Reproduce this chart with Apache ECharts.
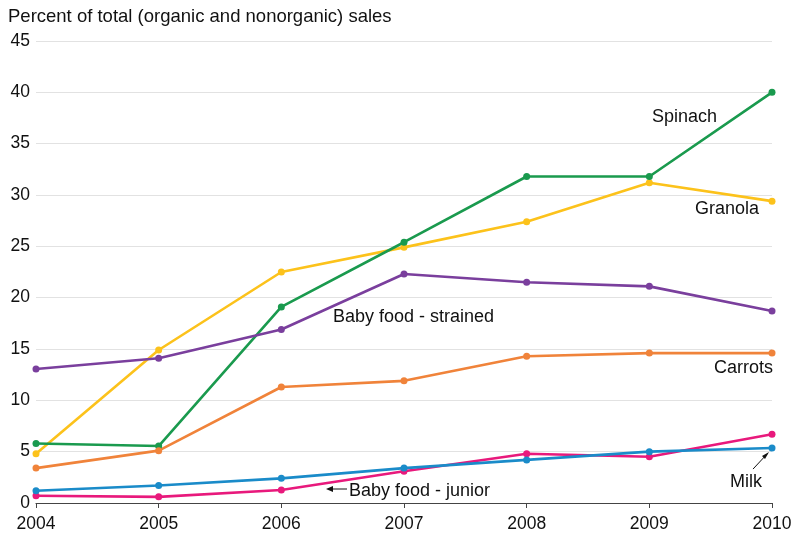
<!DOCTYPE html>
<html><head><meta charset="utf-8">
<script src="https://cdn.jsdelivr.net/npm/echarts@6/dist/echarts.min.js"></script>
<style>html,body{margin:0;padding:0;background:#fff}#c{width:796px;height:536px}</style>
</head><body><div id="c"></div>
<script>
const years = ['2004','2005','2006','2007','2008','2009','2010'];
const spinach = [5.8, 5.55, 19.1, 25.4, 31.8, 31.8, 40.0];
const granola = [4.8, 14.9, 22.5, 24.9, 27.4, 31.2, 29.4];
const babyStrained = [13.05, 14.1, 16.9, 22.3, 21.5, 21.1, 18.7];
const carrots = [3.4, 5.1, 11.3, 11.9, 14.3, 14.6, 14.6];
const milk = [1.2, 1.7, 2.4, 3.4, 4.2, 5.0, 5.35];
const babyJunior = [0.7, 0.6, 1.27, 3.1, 4.8, 4.5, 6.7];
const yTicks = [0, 5, 10, 15, 20, 25, 30, 35, 40, 45];

const FONT = 'Liberation Sans, Arial, sans-serif';
const chart = echarts.init(document.getElementById('c'));
function s(name, data, color){
  return {name, type:'line', data, color, symbol:'circle', symbolSize:7,
    lineStyle:{width:2.6, color}, itemStyle:{color}, emphasis:{disabled:true}, z:2};
}
chart.setOption({
  animation:false,
  grid:{left:36, right:24, top:41, bottom:33, containLabel:false},
  xAxis:{type:'category', data:years, boundaryGap:false,
    axisLine:{lineStyle:{color:'#444', width:1.2}},
    axisTick:{show:true, length:5, lineStyle:{color:'#444'}},
    axisLabel:{color:'#111', fontSize:17.5, fontFamily:FONT, margin:12}},
  yAxis:{type:'value', min:yTicks[0], max:yTicks[yTicks.length-1], interval:5,
    axisLine:{show:false}, axisTick:{show:false},
    splitLine:{lineStyle:{color:'#e2e2e2', width:1.2}},
    axisLabel:{color:'#111', fontSize:17.5, fontFamily:FONT, margin:6}},
  series:[
    s('Granola', granola, '#fcc21b'),
    s('Spinach', spinach, '#1a9a4e'),
    s('Baby food - strained', babyStrained, '#7a3f9d'),
    s('Carrots', carrots, '#f0833a'),
    s('Baby food - junior', babyJunior, '#e8197c'),
    s('Milk', milk, '#1a8bc9')
  ]
});
function px(cat, v){ return chart.convertToPixel({gridIndex:0}, [cat, v]); }
const txt = (t, x, y, size) => ({type:'text', x, y, style:{text:t, font:(size||18)+'px '+FONT, fill:'#111', align:'left', verticalAlign:'middle'}});
const milkPt = px('2010', milk[6]);
chart.setOption({graphic:[
  txt('Percent of total (organic and nonorganic) sales', 8, 17, 18.5),
  txt('Spinach', 652, 117),
  txt('Granola', 695, 209),
  txt('Baby food - strained', 333, 317),
  txt('Carrots', 714, 368),
  txt('Milk', 730, 482),
  txt('Baby food - junior', 349, 491),
  {type:'line', shape:{x1:milkPt[0]-19, y1:milkPt[1]+21, x2:milkPt[0]-5, y2:milkPt[1]+6}, style:{stroke:'#111', lineWidth:1}},
  {type:'polygon', shape:{points:[[milkPt[0]-3,milkPt[1]+4],[milkPt[0]-10,milkPt[1]+8],[milkPt[0]-7,milkPt[1]+11]]}, style:{fill:'#111'}},
  {type:'line', shape:{x1:347, y1:489, x2:330, y2:489}, style:{stroke:'#111', lineWidth:1}},
  {type:'polygon', shape:{points:[[326,489],[333,486],[333,492]]}, style:{fill:'#111'}}
]}, {replaceMerge:['graphic']});
</script></body></html>
